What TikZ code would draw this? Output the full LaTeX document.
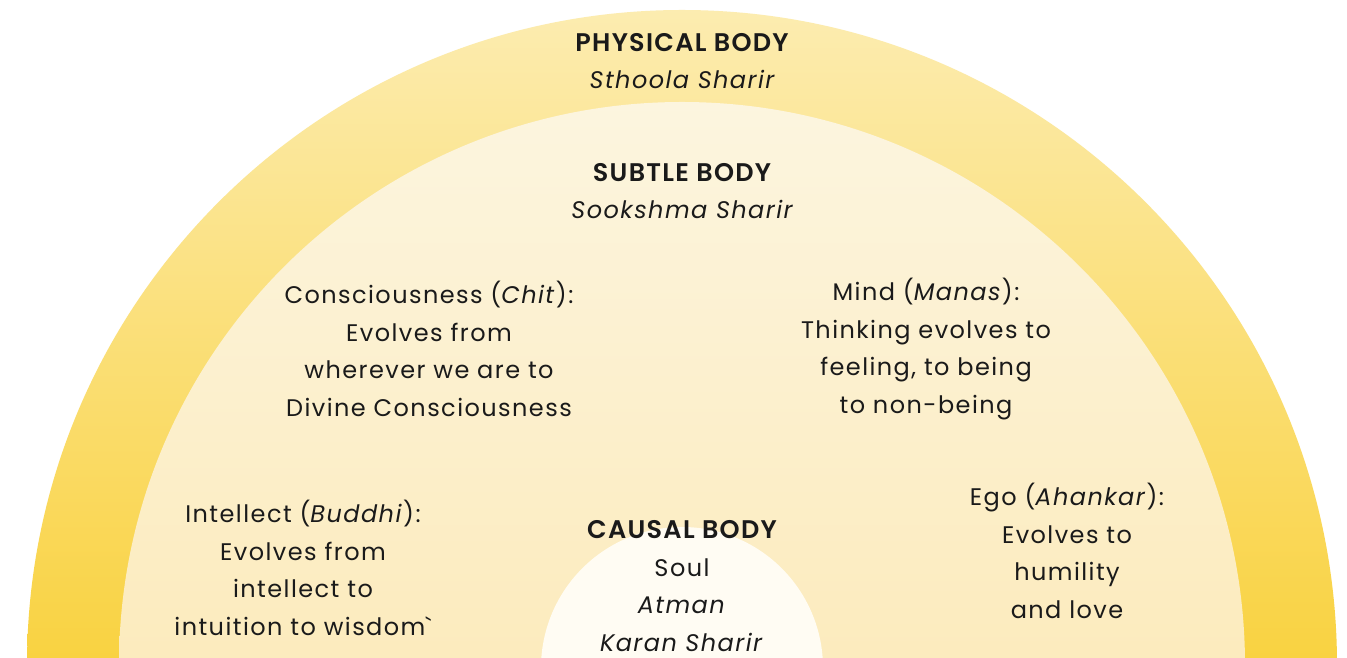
\documentclass[tikz,border=0pt]{standalone}
\usepackage{fontspec}
\setmainfont{Poppins}[LetterSpace=6,BoldFont={Poppins SemiBold},BoldFeatures={LetterSpace=5}]
\definecolor{outerTop}{HTML}{FCECB0}
\definecolor{outerBot}{HTML}{F9D240}
\definecolor{midTop}{HTML}{FCF5DF}
\definecolor{midBot}{HTML}{FCEBBD}
\definecolor{innerFill}{HTML}{FFFCF3}
\definecolor{txt}{HTML}{1A1A1A}
\newcommand{\headtxt}[1]{{\fontsize{25.5}{37.5}\selectfont\bfseries #1}}
\begin{document}
\begin{tikzpicture}[x=1pt,y=1pt,
  lbl/.style={align=center,text=txt,font=\fontsize{24}{37.5}\selectfont,inner sep=0pt}]
\useasboundingbox (0,0) rectangle (1347,658);
\fill[white] (0,0) rectangle (1347,658);
\begin{scope}
\clip (0,0) rectangle (1347,658);
\shade[top color=outerTop,bottom color=outerBot] (682,-7) ++(-655,0) arc[start angle=180,end angle=0,radius=655] -- cycle;
\shade[top color=midTop,bottom color=midBot] (682,-7) ++(-563,0) arc[start angle=180,end angle=0,radius=563] -- cycle;
\fill[innerFill] (682,-10) circle[radius=141];
\end{scope}
\node[lbl] (phys) at (682,597) {\headtxt{PHYSICAL BODY}\\\itshape Sthoola Sharir};
\node[lbl] (subtle) at (682,467) {\headtxt{SUBTLE BODY}\\\itshape Sookshma Sharir};
\node[lbl] (chit) at (429,309) {Consciousness (\textit{Chit}):\\Evolves from\\wherever we are to\\Divine Consciousness};
\node[lbl] (manas) at (926,309) {Mind (\textit{Manas}):\\Thinking evolves to\\feeling, to being\\to non-being};
\node[lbl] (buddhi) at (303,90) {Intellect (\textit{Buddhi}):\\Evolves from\\intellect to\\intuition to wisdom{\addfontfeatures{Ligatures=TeXOff}`}};
\node[lbl] (ego) at (1067,107) {Ego (\textit{Ahankar}):\\Evolves to\\humility\\and love};
\node[lbl] (causal) at (682,72) {\headtxt{CAUSAL BODY}\\Soul\\\textit{Atman}\\\textit{Karan Sharir}};
\end{tikzpicture}
\end{document}
